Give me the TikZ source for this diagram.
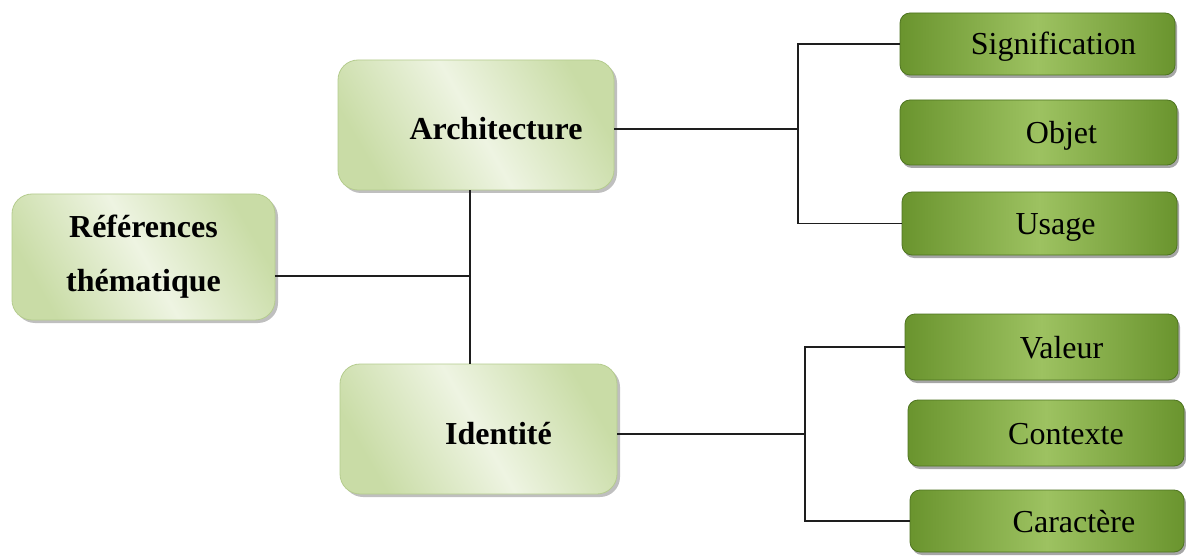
\documentclass[tikz,border=0pt]{standalone}
\usepackage{fontspec}
\setmainfont{Liberation Serif}
\usetikzlibrary{shadows}
\definecolor{paleA}{HTML}{C9DCA6}
\definecolor{paleB}{HTML}{EEF4E2}
\definecolor{paleEdge}{HTML}{B5CC8E}
\definecolor{leafDark}{HTML}{6A942E}
\definecolor{leafLight}{HTML}{9DC261}
\definecolor{leafEdge}{HTML}{4E7420}
\definecolor{wire}{HTML}{1E1E1E}
\tikzset{
  x=1pt, y=-1pt,
  topicbox/.style={rounded corners=20pt, draw=paleEdge, line width=0.8pt,
    left color=paleA, right color=paleA, middle color=paleB, shading angle=120,
    drop shadow={shadow xshift=3pt, shadow yshift=-3pt, fill=black, opacity=0.25},
    font=\fontsize{32}{54}\selectfont\bfseries, align=center, inner sep=0pt},
  singleline/.style={text height=30pt, text depth=0pt},
  leafbox/.style={rounded corners=10pt, draw=leafEdge, line width=0.8pt,
    left color=leafDark, right color=leafDark, middle color=leafLight,
    drop shadow={shadow xshift=2pt, shadow yshift=-3pt, fill=black, opacity=0.35},
    font=\fontsize{32}{36}\selectfont, inner sep=0pt,
    text height=29pt, text depth=7pt},
  wireline/.style={draw=wire, line width=1.6pt}
}
\begin{document}
\begin{tikzpicture}
\useasboundingbox[fill=white] (0,0) rectangle (1186,556);

% main topics
\node[topicbox, minimum width=263pt, minimum height=126pt] (ref) at (143.5,257)
  {Références\\thématique};
\node[topicbox, singleline, minimum width=276pt, minimum height=130pt] (arch) at (476,125)
  {\hspace*{40pt}Architecture};
\node[topicbox, singleline, minimum width=277pt, minimum height=130pt] (ident) at (478.5,429)
  {\hspace*{40pt}Identité};

% leaves
\node[leafbox, minimum width=275pt, minimum height=62pt] (sig) at (1037.5,44)
  {\hspace*{32pt}Signification};
\node[leafbox, minimum width=277pt, minimum height=65pt] (obj) at (1038.5,132.5)
  {\hspace*{46pt}Objet};
\node[leafbox, minimum width=275pt, minimum height=63pt] (usage) at (1039.5,223.5)
  {\hspace*{32pt}Usage};
\node[leafbox, minimum width=273pt, minimum height=66pt] (val) at (1041.5,347)
  {\hspace*{40pt}Valeur};
\node[leafbox, minimum width=276pt, minimum height=66pt] (ctx) at (1046,433)
  {\hspace*{40pt}Contexte};
\node[leafbox, minimum width=274pt, minimum height=62pt] (car) at (1047,521)
  {\hspace*{54pt}Caractère};

% junction points of the connectors
\coordinate (jr) at (470,276);
\coordinate (ja) at (798,129);
\coordinate (jb) at (805,434);

% connectors
\draw[wireline] (ref.east |- jr) -- (jr);
\draw[wireline] (arch.south -| jr) -- (ident.north -| jr);
\draw[wireline] (arch.east |- ja) -- (ja);
\draw[wireline] (sig.west) -- (sig.west -| ja) -- (usage.west -| ja) -- (usage.west);
\draw[wireline] (ident.east |- jb) -- (jb);
\draw[wireline] (val.west) -- (val.west -| jb) -- (car.west -| jb) -- (car.west);
\end{tikzpicture}
\end{document}
